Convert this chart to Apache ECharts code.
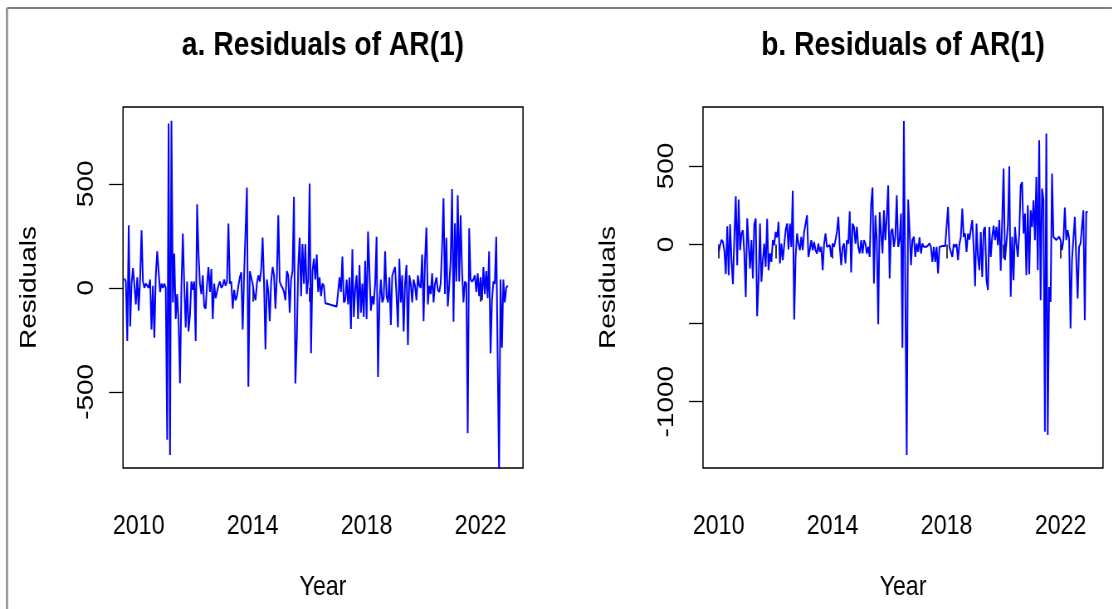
<!DOCTYPE html>
<html>
<head>
<meta charset="utf-8">
<script src="https://cdn.jsdelivr.net/npm/echarts@6/dist/echarts.min.js"></script>
<style>
  html, body { margin: 0; padding: 0; background: #ffffff; overflow: hidden; width: 1112px; height: 609px; }
  #chart { height: 609px; transform-origin: 0 0; }
</style>
</head>
<body>
<div id="chart"></div>
<script>
// Weekly-style residual series, sampled every 0.05 year
const stepYears = 0.05;
const startA = 2009.5;
const startB = 2010.0;

// a. residuals of the AR(1) fit, first series
const residualsA = [
  45, 30, -256, 301, -186, 20, 95, 10, -80, 50,
  -110, 40, 277, 30, 0, 20, 10, 0, 40, -200,
  10, -240, 60, 175, 175, -20, 20, 0, 20, 0,
  -730, 790, -803, 803, -70, 165, -150, -30, -160, -459,
  0, 261, 10, -190, 30, -210, -130, 30, -10, 30,
  -256, 402, 165, 20, -30, 60, -90, -100, 20, 100,
  -20, 90, -150, 20, -50, -20, 10, 30, 0, 10,
  40, 10, 30, 309, 20, 30, -100, -10, -60, -40,
  10, 50, 75, -200, 60, 60, 482, -476, 80, 50,
  20, -30, -60, 20, 60, 30, 90, 242, 20, -295,
  40, -20, -160, 30, 100, 60, -100, 50, 349, 30,
  10, 0, -20, -60, 80, 60, -120, 40, 80, 437,
  -460, -245, 100, 240, -40, 210, 20, 210, -30, 40,
  501, -315, 80, 140, 40, 160, -20, 50, -40, 20,
  10, -74, -76, -78, -80, -82, -84, -86, -88, -90,
  -88, 50, -20, 150, -70, -60, 40, -80, 50, -198,
  185, -140, -10, 60, -150, 110, -120, 20, -140, 130,
  -150, 270, 80, -110, -40, -80, 20, 245, -429, -70,
  40, -70, -50, 175, -40, -70, 50, -178, 60, 80,
  100, -40, -190, 140, -70, 60, -210, 20, 110, -275,
  60, 20, -70, 40, 10, -60, 60, 10, 0, 160,
  -160, 130, 290, -80, 10, -30, 70, -70, 20, 50,
  -10, -20, 20, 200, 430, -30, 240, -90, 10, 130,
  475, -163, 310, 30, 445, 30, 349, 80, -70, 30,
  20, -699, 286, 40, 30, 40, 60, -20, 70, -40,
  50, -60, 100, -30, 80, -50, 175, -315, -60, 30,
  20, 245, 253, -900, 40, -288, 40, -70, 0, 10
];

// b. residuals of the AR(1) fit, second series
const residualsB = [
  -50, -5, 30, 15, -40, -188, 116, -195, 129, -100,
  -252, 49, 307, -132, 286, -36, 70, 91, -57, -334,
  166, 6, -153, 28, -216, 129, 166, -456, -227, 133,
  -237, -100, 6, -142, 163, -163, -57, -110, 28, -4,
  80, 45, 144, -121, 6, -100, -100, 91, 133, -32,
  133, -15, 342, -477, -79, 70, 6, -36, 49, -36,
  80, 133, 186, -79, -32, 28, -36, 17, -36, -57,
  6, -47, -15, -163, 6, 70, -15, -15, -4, -79,
  6, -15, 28, 80, 176, -15, -132, -15, 6, -121,
  28, 6, 212, -178, 133, 112, 6, 112, -15, -57,
  28, -57, 28, 6, -57, -15, -79, 256, 362, -248,
  186, 28, -507, 207, 197, -57, 218, 28, 176, 376,
  -216, 82, 100, -15, 49, 313, -15, 28, 197, -657,
  786, -270, -1339, 286, 91, -132, 28, 49, -79, 6,
  -47, 45, -57, 6, -15, -25, -15, -4, 6, -15,
  -110, -15, -110, -15, -184, -15, -10, -10, -10, -10,
  -10, 239, -15, -25, -79, 2, -15, 2, -100, 2,
  49, 229, 49, 70, -47, 70, 32, 28, 155, -15,
  -265, 133, -79, -163, 80, -206, 91, 112, -227, -290,
  112, -79, 49, 120, 28, 112, -4, 155, -167, 144,
  483, -100, -100, 123, 498, -332, 49, -227, 112, 6,
  -79, 70, 376, 397, 70, 197, -195, 250, -189, 218,
  112, 282, 28, 430, -163, 663, -354, 356, 282, -1192,
  706, -1212, -270, -365, 451, 49, 49, 28, 17, 49,
  28, -36, 28, 235, 28, 91, 38, -535, -100, -100,
  176, 176, -343, -15, 6, 6, 218, -481, 207, 207
];

// Axis ticks and labels
const yearTicks = [2010, 2012, 2014, 2016, 2018, 2020, 2022];
const yearLabels = [2010, 2014, 2018, 2022];
const yTicksA = [-500, 0, 500];
const yLabelsA = [-500, 0, 500];
const yTicksB = [-1000, -500, 0, 500];
const yLabelsB = [-1000, 0, 500];

const titles = ['a. Residuals of AR(1)', 'b. Residuals of AR(1)'];
const xName = 'Year';
const yName = 'Residuals';

// The device output is drawn on a wider canvas and squeezed horizontally,
// which gives the narrow Helvetica-like lettering of the plot.
const SX = 0.83;
const PAGE_W = 1112, PAGE_H = 609;
const VW = PAGE_W / SX;
const sx = v => v / SX;   // page x -> canvas x

const FONT = '"Liberation Sans", Arial, Helvetica, sans-serif';
const LABEL_SIZE = 28;
const TITLE_SIZE = 34;

function toSeries(start, values) {
  return values.map((v, i) => [start + i * stepYears, v]);
}

const panels = [
  { left: 123, top: 107, width: 400, height: 361, yMin: -866, yMax: 869,
    yTicks: yTicksA, yLabels: yLabelsA, data: toSeries(startA, residualsA) },
  { left: 703, top: 107, width: 400, height: 361, yMin: -1422, yMax: 875,
    yTicks: yTicksB, yLabels: yLabelsB, data: toSeries(startB, residualsB) }
];

const option = {
  animation: false,
  backgroundColor: '#ffffff',
  grid: panels.map(p => ({
    left: sx(p.left), top: p.top, width: sx(p.width), height: p.height,
    show: true, borderColor: '#000', borderWidth: 1.5, backgroundColor: 'transparent',
    containLabel: false
  })),
  xAxis: panels.map((p, k) => ({
    type: 'value', gridIndex: k, min: 2009.45, max: 2023.49,
    axisLine: { show: false },
    splitLine: { show: false },
    axisTick: { show: true, length: 14, lineStyle: { color: '#000', width: 1.3 / SX },
                customValues: yearTicks },
    axisLabel: {
      customValues: yearLabels, fontSize: LABEL_SIZE, lineHeight: LABEL_SIZE,
      fontFamily: FONT, color: '#000',
      margin: 44, formatter: v => String(Math.round(v))
    }
  })),
  yAxis: panels.map((p, k) => ({
    type: 'value', gridIndex: k, min: p.yMin, max: p.yMax,
    axisLine: { show: false },
    splitLine: { show: false },
    axisTick: { show: true, length: sx(14), lineStyle: { color: '#000', width: 1.3 },
                customValues: p.yTicks },
    axisLabel: {
      customValues: p.yLabels, rotate: 90, fontSize: LABEL_SIZE, lineHeight: LABEL_SIZE,
      fontFamily: FONT, color: '#000',
      margin: 30, formatter: v => String(Math.round(v))
    }
  })),
  series: panels.map((p, k) => ({
    type: 'line', xAxisIndex: k, yAxisIndex: k,
    data: p.data, showSymbol: false, clip: true,
    lineStyle: { color: '#0000ff', width: 2 },
    itemStyle: { color: '#0000ff' }
  })),
  graphic: [
    // outer device frame
    { type: 'line', shape: { x1: sx(7), y1: 8, x2: VW, y2: 8 }, style: { stroke: '#555', lineWidth: 1.5 } },
    { type: 'line', shape: { x1: sx(7), y1: 8, x2: sx(7), y2: PAGE_H }, style: { stroke: '#888', lineWidth: 2 / SX } }
  ].concat(panels.flatMap((p, k) => {
    const cx = sx(p.left + p.width / 2);
    const cy = p.top + p.height / 2;
    return [
      { type: 'text', x: cx, y: 46,
        style: { text: titles[k], fontSize: TITLE_SIZE, fontWeight: 'bold', fontFamily: FONT,
                 fill: '#000', align: 'center', verticalAlign: 'middle' } },
      { type: 'text', x: cx, y: 587,
        style: { text: xName, fontSize: LABEL_SIZE, fontFamily: FONT,
                 fill: '#000', align: 'center', verticalAlign: 'middle' } },
      { type: 'text', x: sx(p.left - 94), y: cy, rotation: Math.PI / 2,
        style: { text: yName, fontSize: LABEL_SIZE, fontFamily: FONT,
                 fill: '#000', align: 'center', verticalAlign: 'middle' } }
    ];
  }))
};

const el = document.getElementById('chart');
el.style.width = VW + 'px';
el.style.transform = 'scaleX(' + SX + ')';
const chart = echarts.init(el, null, { renderer: 'canvas' });
chart.setOption(option);
</script>
</body>
</html>
